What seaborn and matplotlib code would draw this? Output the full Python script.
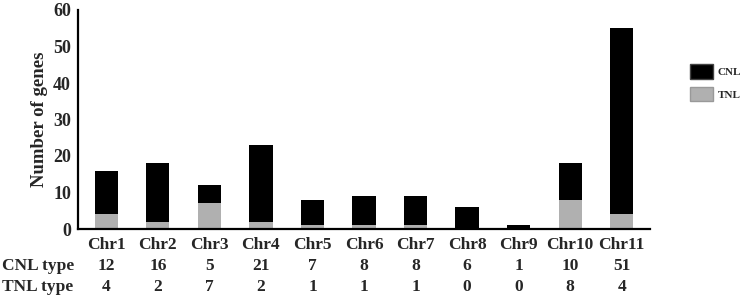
import matplotlib
matplotlib.use("Agg")
import matplotlib.pyplot as plt
import matplotlib.transforms as mtransforms
from matplotlib.patches import Patch
import seaborn as sns
import pandas as pd

chromosomes = ["Chr1", "Chr2", "Chr3", "Chr4", "Chr5", "Chr6", "Chr7", "Chr8", "Chr9", "Chr10", "Chr11"]
cnl_counts = [12, 16, 5, 21, 7, 8, 8, 6, 1, 10, 51]
tnl_counts = [4, 2, 7, 2, 1, 1, 1, 0, 0, 8, 4]
y_ticks = [0, 10, 20, 30, 40, 50, 60]

df = pd.DataFrame({"chrom": chromosomes, "CNL": cnl_counts, "TNL": tnl_counts})
df["total"] = df["CNL"] + df["TNL"]

sns.set_theme(style="white")
plt.rcParams["font.family"] = ["Liberation Serif", "DejaVu Serif"]
plt.rcParams["font.weight"] = "bold"

BLACK = "#000000"
GRAY = "#b0b0b0"

fig = plt.figure(figsize=(7.43, 3.0), dpi=100)
ax = fig.add_axes([78 / 743, 71 / 300, (650 - 78) / 743, (229 - 10) / 300])

sns.barplot(data=df, x="chrom", y="total", color=BLACK, width=0.45, ax=ax,
            saturation=1, edgecolor="none")
sns.barplot(data=df, x="chrom", y="TNL", color=GRAY, width=0.45, ax=ax,
            saturation=1, edgecolor="none")

ax.set_ylim(0, 60)
ax.set_xlim(-0.55, len(chromosomes) - 0.45)
ax.set_yticks(y_ticks)
ax.set_yticklabels([str(t) for t in y_ticks], fontsize=13, fontweight="bold")
ax.set_xticks(range(len(chromosomes)))
ax.set_xticklabels(chromosomes, fontsize=12.5, fontweight="bold")
ax.set_xlabel("")
ax.set_ylabel("Number of genes", fontsize=13.5, fontweight="bold", labelpad=4)

for s in ["top", "right"]:
    ax.spines[s].set_visible(False)
for s in ["left", "bottom"]:
    ax.spines[s].set_color("black")
    ax.spines[s].set_linewidth(1.6)
ax.tick_params(axis="y", direction="out", length=4, width=1.6, color="black", pad=1)
ax.tick_params(axis="x", length=0, pad=6)

trans = mtransforms.blended_transform_factory(ax.transData, fig.transFigure)
for i, (c, t) in enumerate(zip(cnl_counts, tnl_counts)):
    ax.text(i, 1 - 266 / 300, str(c), transform=trans, ha="center", va="center",
            fontsize=12.5, fontweight="bold")
    ax.text(i, 1 - 287 / 300, str(t), transform=trans, ha="center", va="center",
            fontsize=12.5, fontweight="bold")
fig.text(2 / 743, 1 - 266 / 300, "CNL type", ha="left", va="center", fontsize=12.5, fontweight="bold")
fig.text(2 / 743, 1 - 287 / 300, "TNL type", ha="left", va="center", fontsize=12.5, fontweight="bold")

handles = [Patch(facecolor=BLACK, edgecolor="#444444", label="CNL"),
           Patch(facecolor=GRAY, edgecolor="#999999", label="TNL")]
fig.legend(handles=handles, loc="upper left", bbox_to_anchor=(686 / 743, 1 - 60 / 300),
           frameon=False, handlelength=2.0, handleheight=1.6,
           labelspacing=0.75, handletextpad=0.45, borderpad=0.4, borderaxespad=0,
           prop={"weight": "bold", "size": 8})

fig.savefig("out.png", dpi=100)
